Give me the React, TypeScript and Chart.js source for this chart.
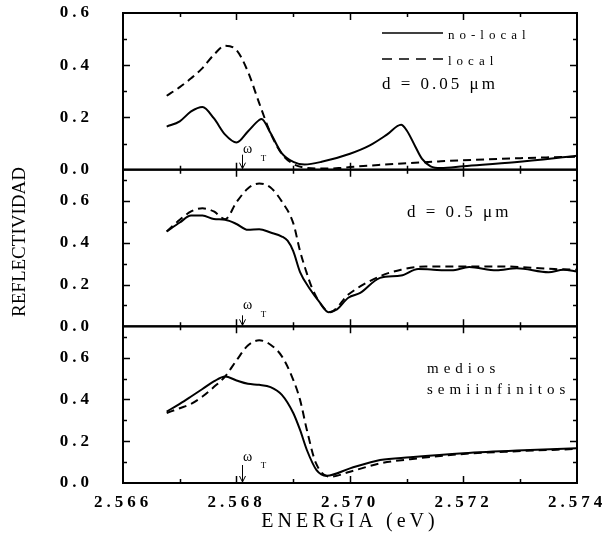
import React, { useEffect, useRef } from 'react';
import { Chart, registerables } from 'chart.js';
Chart.register(...registerables);

const SERIF = "'Liberation Serif', 'Times New Roman', serif";
const X_MIN = 2.566;
const X_MAX = 2.574;
const X_STEP = 0.002;
const OMEGA_T = 2.56809;

// Panel 1: d = 0.05 um
const p1NoLocalE = [2.56677, 2.567, 2.5672, 2.5674, 2.5676, 2.5678, 2.568, 2.5682, 2.5684, 2.56844, 2.5686, 2.5688, 2.569, 2.5692, 2.5695, 2.57, 2.57035, 2.57065, 2.5709, 2.571, 2.57115, 2.57127, 2.57142, 2.5716, 2.572, 2.5729, 2.574];
const p1NoLocalR = [0.165, 0.185, 0.223, 0.24, 0.197, 0.134, 0.104, 0.146, 0.19, 0.194, 0.14, 0.062, 0.03, 0.02, 0.03, 0.061, 0.093, 0.134, 0.172, 0.15, 0.089, 0.041, 0.013, 0.006, 0.013, 0.028, 0.053];
const p1LocalE = [2.56677, 2.567, 2.5672, 2.5674, 2.5676, 2.5678, 2.568, 2.5682, 2.5684, 2.5686, 2.5688, 2.569, 2.5692, 2.5695, 2.5698, 2.57, 2.5705, 2.571, 2.5716, 2.5722, 2.573, 2.574];
const p1LocalR = [0.283, 0.316, 0.35, 0.389, 0.44, 0.475, 0.458, 0.376, 0.255, 0.14, 0.06, 0.022, 0.008, 0.004, 0.006, 0.01, 0.018, 0.025, 0.032, 0.038, 0.044, 0.05];

// Panel 2: d = 0.5 um
const p2NoLocalE = [2.56677, 2.567, 2.5672, 2.5674, 2.5676, 2.5678, 2.568, 2.5682, 2.5684, 2.5686, 2.5688, 2.5689, 2.569, 2.56912, 2.5693, 2.56947, 2.56962, 2.56977, 2.56997, 2.57018, 2.57053, 2.5709, 2.5712, 2.57147, 2.57179, 2.5721, 2.57258, 2.57294, 2.5735, 2.57376, 2.574];
const p2NoLocalR = [0.454, 0.497, 0.53, 0.53, 0.514, 0.51, 0.49, 0.462, 0.465, 0.449, 0.43, 0.41, 0.36, 0.26, 0.176, 0.113, 0.068, 0.081, 0.137, 0.16, 0.232, 0.243, 0.275, 0.271, 0.268, 0.284, 0.268, 0.278, 0.259, 0.271, 0.263];
const p2LocalE = [2.56677, 2.567, 2.5672, 2.5674, 2.5676, 2.5678, 2.568, 2.5682, 2.5684, 2.5686, 2.5688, 2.569, 2.56912, 2.56922, 2.56933, 2.56951, 2.56965, 2.56997, 2.57053, 2.5709, 2.57133, 2.572, 2.5727, 2.5732, 2.5736, 2.574];
const p2LocalR = [0.454, 0.51, 0.55, 0.565, 0.55, 0.513, 0.594, 0.66, 0.684, 0.665, 0.597, 0.494, 0.36, 0.27, 0.184, 0.097, 0.068, 0.152, 0.24, 0.271, 0.287, 0.287, 0.287, 0.28, 0.274, 0.271];

// Panel 3: semi-infinite media
const p3NoLocalE = [2.56677, 2.567, 2.5672, 2.5674, 2.5676, 2.5678, 2.568, 2.5682, 2.5684, 2.5686, 2.5688, 2.569, 2.56912, 2.56924, 2.56941, 2.56959, 2.57, 2.57053, 2.57106, 2.572, 2.57294, 2.574];
const p3NoLocalR = [0.342, 0.379, 0.414, 0.45, 0.486, 0.51, 0.491, 0.475, 0.47, 0.459, 0.422, 0.335, 0.254, 0.158, 0.062, 0.035, 0.07, 0.11, 0.123, 0.142, 0.155, 0.166];
const p3LocalE = [2.56677, 2.567, 2.5672, 2.5674, 2.5676, 2.5678, 2.568, 2.5682, 2.5684, 2.5686, 2.5688, 2.569, 2.56912, 2.56924, 2.5694, 2.56965, 2.57, 2.57053, 2.57106, 2.572, 2.57294, 2.574];
const p3LocalR = [0.335, 0.358, 0.379, 0.414, 0.459, 0.51, 0.587, 0.658, 0.683, 0.662, 0.606, 0.494, 0.398, 0.254, 0.095, 0.03, 0.054, 0.094, 0.114, 0.139, 0.152, 0.163];

const panelIds = ['y1', 'y2', 'y3'];
const panelMax = [0.6, 0.75, 0.75];
const yTickStep = 0.2;
const seriesLabels = ['no-local', 'local'];
const panelNotes = [['d = 0.05 μm'], ['d = 0.5 μm'], ['medios', 'semiinfinitos']];

const zip = (e: number[], r: number[]) => e.map((x, i) => ({ x, y: r[i] }));

const mk = (label: string, e: number[], r: number[], axis: string, dashed: boolean) => ({
  label,
  data: zip(e, r),
  yAxisID: axis,
  borderColor: '#000',
  backgroundColor: '#000',
  borderWidth: 2,
  borderDash: dashed ? [8, 5] : [],
  pointRadius: 0,
  fill: false,
  cubicInterpolationMode: 'monotone' as const,
});

const framePlugin = {
  id: 'frames',
  beforeDraw(chart: any) {
    chart.ctx.letterSpacing = '4px';
  },
  afterDraw(chart: any) {
    const ctx = chart.ctx as CanvasRenderingContext2D;
    const xs = chart.scales.x;
    const { left, right } = chart.chartArea;
    ctx.save();
    (ctx as any).letterSpacing = '0px';
    ctx.strokeStyle = '#000';
    ctx.fillStyle = '#000';
    panelIds.forEach((id, pi) => {
      const s = chart.scales[id];
      const top = s.top;
      const bottom = s.bottom;
      ctx.setLineDash([]);
      ctx.lineWidth = 2;
      ctx.strokeRect(left, top, right - left, bottom - top);
      ctx.lineWidth = 1.5;
      // x ticks
      for (let k = 1; k < 8; k++) {
        const v = X_MIN + k * 0.001;
        const px = Math.round(xs.getPixelForValue(v)) + 0.5;
        const len = k % 2 === 0 ? 7 : 4;
        ctx.beginPath();
        ctx.moveTo(px, bottom);
        ctx.lineTo(px, bottom - len);
        ctx.moveTo(px, top);
        ctx.lineTo(px, top + len);
        ctx.stroke();
      }
      // y ticks
      for (let k = 1; k * 0.1 < panelMax[pi] - 1e-6; k++) {
        const py = Math.round(s.getPixelForValue(k * 0.1)) + 0.5;
        const len = k % 2 === 0 ? 7 : 4;
        ctx.beginPath();
        ctx.moveTo(left, py);
        ctx.lineTo(left + len, py);
        ctx.moveTo(right, py);
        ctx.lineTo(right - len, py);
        ctx.stroke();
      }
      // omega_T marker
      const ax = Math.round(xs.getPixelForValue(OMEGA_T)) + 0.5;
      const arrowLen = [15, 11, 18][pi];
      const wOff = [20, 21, 26][pi];
      ctx.lineWidth = 1;
      ctx.beginPath();
      ctx.moveTo(ax, bottom - arrowLen);
      ctx.lineTo(ax, bottom - 1);
      ctx.moveTo(ax - 3, bottom - 7);
      ctx.lineTo(ax, bottom - 1);
      ctx.lineTo(ax + 3, bottom - 7);
      ctx.stroke();
      ctx.font = `14px ${SERIF}`;
      ctx.textAlign = 'center';
      ctx.textBaseline = 'middle';
      ctx.fillText('ω', ax + 5, bottom - wOff);
      ctx.font = `9px ${SERIF}`;
      ctx.fillText('T', ax + 21, bottom - wOff + 9);
    });

    // legend in panel 1
    const s1 = chart.scales.y1;
    const lx0 = left + 259;
    const lx1 = left + 320;
    ctx.lineWidth = 1.5;
    ctx.setLineDash([]);
    ctx.beginPath();
    ctx.moveTo(lx0, s1.top + 20);
    ctx.lineTo(lx1, s1.top + 20);
    ctx.stroke();
    ctx.setLineDash([10, 7]);
    ctx.beginPath();
    ctx.moveTo(lx0, s1.top + 46);
    ctx.lineTo(lx1, s1.top + 46);
    ctx.stroke();
    ctx.setLineDash([]);
    ctx.textAlign = 'left';
    ctx.textBaseline = 'alphabetic';
    ctx.font = `13px ${SERIF}`;
    (ctx as any).letterSpacing = '5px';
    ctx.fillText(seriesLabels[0], left + 325, s1.top + 26);
    ctx.fillText(seriesLabels[1], left + 325, s1.top + 52);

    // panel notes
    ctx.font = `17px ${SERIF}`;
    (ctx as any).letterSpacing = '3px';
    ctx.fillText(panelNotes[0][0], left + 259, s1.top + 76);
    const s2 = chart.scales.y2;
    ctx.fillText(panelNotes[1][0], left + 284, s2.top + 47);
    const s3 = chart.scales.y3;
    ctx.font = `15px ${SERIF}`;
    (ctx as any).letterSpacing = '5px';
    ctx.fillText(panelNotes[2][0], left + 304, s3.top + 47);
    ctx.fillText(panelNotes[2][1], left + 304, s3.top + 68);

    // y axis title
    (ctx as any).letterSpacing = '0px';
    ctx.translate(20, 242);
    ctx.rotate(-Math.PI / 2);
    ctx.font = `19px ${SERIF}`;
    ctx.textAlign = 'center';
    ctx.textBaseline = 'middle';
    ctx.fillText('REFLECTIVIDAD', 0, 0);
    ctx.restore();
  },
};

const yScale = (max: number) => ({
  type: 'linear' as const,
  position: 'left' as const,
  stack: 'panels',
  stackWeight: 1,
  min: 0,
  max,
  offset: false,
  grid: { display: false, drawTicks: false },
  border: { display: false },
  ticks: {
    stepSize: yTickStep,
    includeBounds: false,
    padding: 30,
    color: '#000',
    font: { family: SERIF, size: 17, weight: 'bold' as const },
    callback: (v: any) => Number(v).toFixed(1),
  },
  afterFit: (s: any) => {
    s.width = 123;
    s.paddingTop = 0;
    s.paddingBottom = 0;
  },
});

export default function App() {
  const ref = useRef<HTMLCanvasElement | null>(null);
  useEffect(() => {
    if (!ref.current) return;
    const chart = new Chart(ref.current, {
      type: 'line',
      data: {
        datasets: [
          mk(seriesLabels[0], p1NoLocalE, p1NoLocalR, 'y1', false),
          mk(seriesLabels[1], p1LocalE, p1LocalR, 'y1', true),
          mk(seriesLabels[0], p2NoLocalE, p2NoLocalR, 'y2', false),
          mk(seriesLabels[1], p2LocalE, p2LocalR, 'y2', true),
          mk(seriesLabels[0], p3NoLocalE, p3NoLocalR, 'y3', false),
          mk(seriesLabels[1], p3LocalE, p3LocalR, 'y3', true),
        ],
      },
      options: {
        animation: false,
        responsive: false,
        devicePixelRatio: 1,
        layout: { padding: { left: 0, right: 26, top: 13, bottom: 0 } },
        plugins: { legend: { display: false }, tooltip: { enabled: false } },
        scales: {
          x: {
            type: 'linear',
            min: X_MIN,
            max: X_MAX,
            grid: { display: false, drawTicks: false },
            border: { display: false },
            ticks: {
              stepSize: X_STEP,
              padding: 9,
              autoSkip: false,
              maxRotation: 0,
              color: '#000',
              font: { family: SERIF, size: 17, weight: 'bold' },
              callback: (v: any) => Number(v).toFixed(3),
            },
            title: {
              display: true,
              text: 'ENERGIA (eV)',
              color: '#000',
              font: { family: SERIF, size: 20 },
              padding: { top: 0, bottom: 5 },
            },
            afterFit: (s: any) => {
              s.height = 56;
              s.paddingLeft = 0;
              s.paddingRight = 0;
            },
          },
          // stacked bottom-to-top
          y3: yScale(panelMax[2]),
          y2: yScale(panelMax[1]),
          y1: yScale(panelMax[0]),
        } as any,
      },
      plugins: [framePlugin],
    });
    return () => chart.destroy();
  }, []);
  return (
    <div style={{ position: 'fixed', left: 0, top: 0, width: 603, height: 539, background: '#fff' }}>
      <canvas ref={ref} width={603} height={539} style={{ display: 'block', width: 603, height: 539 }} />
    </div>
  );
}
